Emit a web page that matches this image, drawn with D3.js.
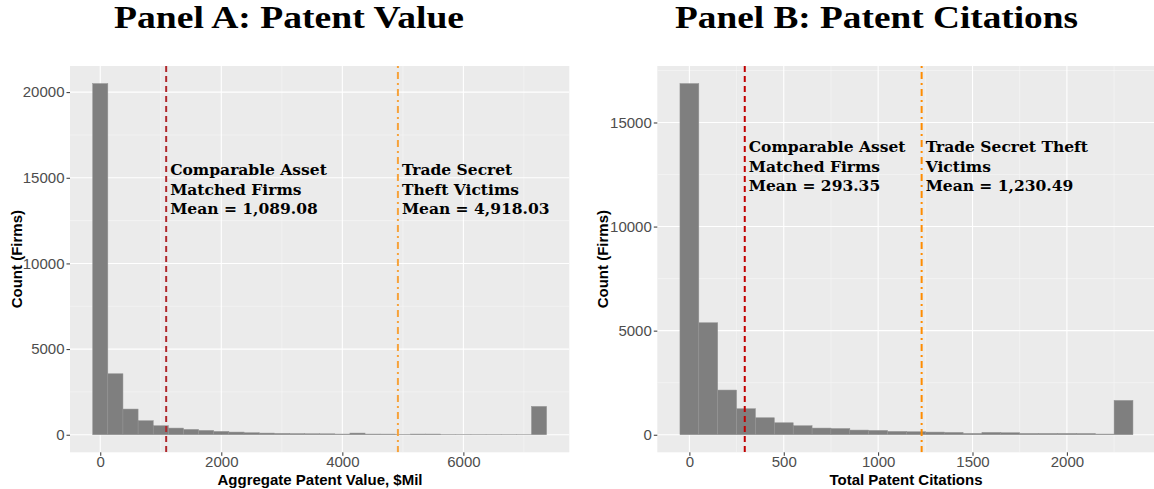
<!DOCTYPE html>
<html>
<head>
<meta charset="utf-8">
<script src="https://cdn.jsdelivr.net/npm/d3@7"></script>
<style>
  html, body { margin: 0; padding: 0; background: #ffffff; }
  svg { display: block; }
</style>
</head>
<body>
<svg id="chart" width="1154" height="489"></svg>
<script>
// ---- Panel A: aggregate patent value histogram ($Mil) ----
const valueBinCenters = [0, 250, 500, 750, 1000, 1250, 1500, 1750, 2000, 2250, 2500, 2750, 3000, 3250, 3500,
  3750, 4000, 4250, 4500, 4750, 5000, 5250, 5500, 5750, 6000, 6250, 6500, 6750, 7000, 7250];
const valueBinWidth = 250;
const valueCounts = [20500, 3560, 1500, 820, 526, 389, 311, 253, 195, 156, 117, 97, 80, 68, 58,
  55, 40, 97, 40, 38, 22, 40, 40, 18, 16, 15, 14, 13, 12, 1654];
const valueTicksX = [0, 2000, 4000, 6000];
const valueTicksY = [0, 5000, 10000, 15000, 20000];
const valueMeanMatched = 1089.08;
const valueMeanVictims = 4918.03;

// ---- Panel B: total patent citations histogram ----
const citationBinCenters = [0, 100, 200, 300, 400, 500, 600, 700, 800, 900, 1000, 1100, 1200, 1300, 1400,
  1500, 1600, 1700, 1800, 1900, 2000, 2100, 2200, 2300];
const citationBinWidth = 100;
const citationCounts = [16870, 5380, 2147, 1249, 816, 576, 432, 320, 300, 224, 208, 160, 144, 128, 112,
  64, 112, 96, 64, 64, 64, 60, 32, 1649];
const citationTicksX = [0, 500, 1000, 1500, 2000];
const citationTicksY = [0, 5000, 10000, 15000];
const citationMeanMatched = 293.35;
const citationMeanVictims = 1230.49;

const svg = d3.select("#chart");

const BG = "#EBEBEB";
const BAR = "#7F7F7F";

function expand(lo, hi) {
  const pad = (hi - lo) * 0.05;
  return [lo - pad, hi + pad];
}

function drawPanel(p) {
  const g = svg.append("g");
  const xDomain = expand(p.centers[0] - p.binWidth / 2, p.centers[p.centers.length - 1] + p.binWidth / 2);
  const yDomain = expand(0, d3.max(p.counts));
  const x = d3.scaleLinear().domain(xDomain).range([p.left, p.right]);
  const y = d3.scaleLinear().domain(yDomain).range([p.bottom, p.top]);

  const clipId = "clip-" + p.id;
  g.append("clipPath").attr("id", clipId)
    .append("rect").attr("x", p.left).attr("y", p.top)
    .attr("width", p.right - p.left).attr("height", p.bottom - p.top);

  // panel background
  g.append("rect").attr("x", p.left).attr("y", p.top)
    .attr("width", p.right - p.left).attr("height", p.bottom - p.top)
    .attr("fill", BG);

  const inner = g.append("g").attr("clip-path", `url(#${clipId})`);

  // minor grid lines (midway between major ticks)
  const xStep = p.ticksX[1] - p.ticksX[0];
  const yStep = p.ticksY[1] - p.ticksY[0];
  const xMinor = d3.range(xDomain[0] - xStep, xDomain[1] + xStep, xStep / 2)
    .map(v => Math.round(v / (xStep / 2)) * (xStep / 2))
    .filter(v => Math.abs(v % xStep) > 1e-6 && v > xDomain[0] && v < xDomain[1]);
  const yMinor = d3.range(0, yDomain[1], yStep / 2)
    .filter(v => Math.abs(v % yStep) > 1e-6);

  inner.selectAll(".xminor").data(xMinor).join("line")
    .attr("x1", d => x(d)).attr("x2", d => x(d))
    .attr("y1", p.top).attr("y2", p.bottom)
    .attr("stroke", "#F7F7F7").attr("stroke-width", 0.55);
  inner.selectAll(".yminor").data(yMinor).join("line")
    .attr("x1", p.left).attr("x2", p.right)
    .attr("y1", d => y(d)).attr("y2", d => y(d))
    .attr("stroke", "#F7F7F7").attr("stroke-width", 0.55);

  // major grid lines
  inner.selectAll(".xmajor").data(p.ticksX).join("line")
    .attr("x1", d => x(d)).attr("x2", d => x(d))
    .attr("y1", p.top).attr("y2", p.bottom)
    .attr("stroke", "#FFFFFF").attr("stroke-width", 1.1);
  inner.selectAll(".ymajor").data(p.ticksY).join("line")
    .attr("x1", p.left).attr("x2", p.right)
    .attr("y1", d => y(d)).attr("y2", d => y(d))
    .attr("stroke", "#FFFFFF").attr("stroke-width", 1.1);

  // histogram bars
  const bins = p.centers.map((c, i) => ({ c, n: p.counts[i] }));
  inner.selectAll(".bar").data(bins).join("rect")
    .attr("x", d => x(d.c - p.binWidth / 2))
    .attr("width", d => x(d.c + p.binWidth / 2) - x(d.c - p.binWidth / 2))
    .attr("y", d => y(d.n))
    .attr("height", d => y(0) - y(d.n))
    .attr("fill", BAR)
    .attr("stroke", "#939393")
    .attr("stroke-width", 0.5);

  // mean lines
  inner.append("line")
    .attr("x1", x(p.meanMatched)).attr("x2", x(p.meanMatched))
    .attr("y1", p.top).attr("y2", p.bottom)
    .attr("stroke", p.redColor).attr("stroke-width", 2)
    .attr("stroke-dasharray", "6,4");
  inner.append("line")
    .attr("x1", x(p.meanVictims)).attr("x2", x(p.meanVictims))
    .attr("y1", p.top).attr("y2", p.bottom)
    .attr("stroke", p.orangeColor).attr("stroke-width", 2)
    .attr("stroke-dasharray", "2,4,7,4");

  // axes
  const xAxis = d3.axisBottom(x).tickValues(p.ticksX).tickSize(3.5).tickPadding(1).tickFormat(d3.format("d"));
  const yAxis = d3.axisLeft(y).tickValues(p.ticksY).tickSize(3.5).tickPadding(2).tickFormat(d3.format("d"));
  const gx = g.append("g").attr("transform", `translate(0,${p.bottom})`).call(xAxis);
  const gy = g.append("g").attr("transform", `translate(${p.left},0)`).call(yAxis);
  [gx, gy].forEach(a => {
    a.select(".domain").remove();
    a.selectAll(".tick line").attr("stroke", "#333333").attr("stroke-width", 1);
    a.selectAll(".tick text")
      .attr("fill", "#4D4D4D")
      .style("font-family", "'Liberation Sans', Arial, sans-serif")
      .style("font-size", "15px");
  });

  // axis titles
  g.append("text")
    .attr("x", p.xTitleX)
    .attr("y", 485)
    .attr("text-anchor", "middle")
    .style("font-family", "'Liberation Sans', Arial, sans-serif")
    .style("font-weight", "bold")
    .style("font-size", "15px")
    .attr("fill", "#000")
    .text(p.xTitle);
  g.append("text")
    .attr("transform", `translate(${p.yTitleX},${(p.top + p.bottom) / 2}) rotate(-90)`)
    .attr("text-anchor", "middle")
    .style("font-family", "'Liberation Sans', Arial, sans-serif")
    .style("font-weight", "bold")
    .style("font-size", "15px")
    .attr("fill", "#000")
    .text("Count (Firms)");

  // panel title
  g.append("text")
    .attr("x", p.titleX).attr("y", 28)
    .attr("text-anchor", "middle")
    .attr("textLength", p.titleWidth)
    .attr("lengthAdjust", "spacingAndGlyphs")
    .style("font-family", "'Liberation Serif', 'Times New Roman', serif")
    .style("font-weight", "bold")
    .style("font-size", "32px")
    .attr("fill", "#000")
    .text(p.title);

  // mean annotations
  function annotate(xv, lines) {
    const t = g.append("text")
      .attr("x", x(xv) + 4)
      .attr("y", y(p.labelY))
      .style("font-family", "'DejaVu Serif', Georgia, serif")
      .style("font-weight", "bold")
      .style("font-size", "15.5px")
      .attr("fill", "#000");
    lines.forEach((s, i) => {
      t.append("tspan").attr("x", x(xv) + 4).attr("dy", i === 0 ? 0 : 19.5).text(s);
    });
  }
  annotate(p.meanMatched, p.matchedLabel);
  annotate(p.meanVictims, p.victimsLabel);
}

drawPanel({
  id: "a",
  centers: valueBinCenters, binWidth: valueBinWidth, counts: valueCounts,
  ticksX: valueTicksX, ticksY: valueTicksY,
  meanMatched: valueMeanMatched, meanVictims: valueMeanVictims,
  left: 70, right: 569.3, top: 66, bottom: 452.3,
  redColor: "#B0282C", orangeColor: "#F7A23A",
  title: "Panel A: Patent Value", titleX: 289, titleWidth: 350,
  xTitle: "Aggregate Patent Value, $Mil", xTitleX: 320, yTitleX: 22,
  labelY: 15150,
  matchedLabel: ["Comparable Asset", "Matched Firms", "Mean = 1,089.08"],
  victimsLabel: ["Trade Secret", "Theft Victims", "Mean = 4,918.03"]
});

drawPanel({
  id: "b",
  centers: citationBinCenters, binWidth: citationBinWidth, counts: citationCounts,
  ticksX: citationTicksX, ticksY: citationTicksY,
  meanMatched: citationMeanMatched, meanVictims: citationMeanVictims,
  left: 657.3, right: 1155.6, top: 66, bottom: 452.3,
  redColor: "#C00000", orangeColor: "#FF8C00",
  title: "Panel B: Patent Citations", titleX: 876.5, titleWidth: 403,
  xTitle: "Total Patent Citations", xTitleX: 906, yTitleX: 608,
  labelY: 13560,
  matchedLabel: ["Comparable Asset", "Matched Firms", "Mean = 293.35"],
  victimsLabel: ["Trade Secret Theft", "Victims", "Mean = 1,230.49"]
});
</script>
</body>
</html>
